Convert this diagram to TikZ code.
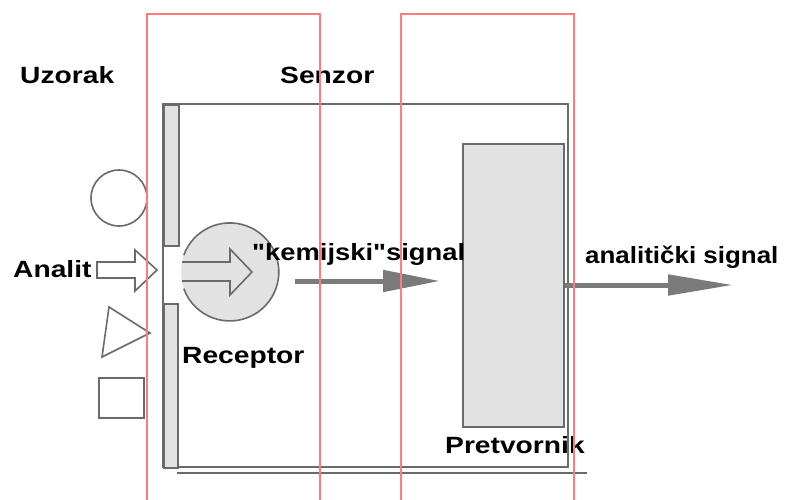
\documentclass[tikz,border=0pt]{standalone}
\usepackage{graphicx}
\usepackage{fontspec}
\setmainfont[FakeStretch=1.2, Ligatures=TeXOff]{Liberation Sans}
\usetikzlibrary{arrows.meta}
\definecolor{lightg}{HTML}{E2E2E2}
\definecolor{lineg}{HTML}{6A6A6A}
\definecolor{arrg}{HTML}{7A7A7A}
\definecolor{redl}{HTML}{FF7C7C}
\tikzset{
  shapeline/.style={draw=lineg, line width=1.6pt},
  lbl/.style={inner sep=0pt, anchor=base west, font=\fontsize{23.5}{28}\bfseries},
  sigarrow/.style={draw=arrg, line width=5pt},
  redbox/.style={draw=redl, line width=1.8pt},
}
\begin{document}
\begin{tikzpicture}[x=1pt,y=1pt]
\useasboundingbox (0,0) rectangle (787,-500);
\fill[white] (0,0) rectangle (787,-500);

% sensor body
\draw[shapeline] (163,-104) -- (568,-104) -- (568,-467) -- (163,-467) -- cycle;
\draw[shapeline] (177,-473) -- (587,-473);
\node[shapeline, fill=lightg, minimum width=15, minimum height=141, inner sep=0, anchor=north west] (strip1) at (163,-104) {};
\node[shapeline, fill=lightg, minimum width=14, minimum height=164, inner sep=0, anchor=north west] (strip2) at (163,-303) {};

% transducer
\node[shapeline, fill=lightg, minimum width=101, minimum height=283, inner sep=0] (pret) at (513.5,-285.5) {};

% receptor
\node[circle, fill=lightg, minimum size=98, inner sep=0] (rec) at (230,-272) {};
\draw[shapeline] (rec.160) arc[start angle=160, end angle=-160, radius=49];
\draw[shapeline, fill=lightg] (182,-262) -- (230,-262) -- (230,-249) -- (252,-272) -- (230,-295) -- (230,-281) -- (182,-281);

% sample shapes
\node[circle, shapeline, minimum size=56, inner sep=0] (circ) at (119,-198) {};
\draw[shapeline] (109,-307) -- (150,-333) -- (102,-357) -- cycle;
\node[shapeline, minimum width=45, minimum height=40, inner sep=0, anchor=north west] (sq) at (98,-377) {};

% analyte arrow
\draw[shapeline, fill=white] (97,-262) -- (135,-262) -- (135,-250) -- (157,-270) -- (135,-291) -- (135,-278) -- (97,-278) -- cycle;

% signal arrows
\coordinate (k1) at (295,-281);
\coordinate (k2) at (440,-281);
\draw[sigarrow, -{Triangle[length=57pt, width=21pt, fill=arrg]}] (k1) -- (k2);
\coordinate (a1) at (565,-285);
\coordinate (a2) at (733,-285);
\draw[sigarrow, -{Triangle[length=65pt, width=20pt, fill=arrg]}] (a1) -- (a2);

% labels
\node[lbl] (uz) at (20,-84) {Uzorak};
\node[lbl] (sen) at (280,-84) {Senzor};
\node[lbl] (an) at (13,-277) {Analit};
\node[lbl] (recl) at (182,-363) {Receptor};
\node[lbl] (kem) at (252,-260) {\scalebox{0.97}[1]{"kemijski"signal}};
\node[lbl] (anl) at (585,-263) {\scalebox{0.92}[1]{analitički signal}};
\node[lbl] (pretl) at (445,-453) {Pretvornik};

% red frames
\draw[redbox] (147,-500) -- (147,-14) -- (320,-14) -- (320,-500);
\draw[redbox] (401,-500) -- (401,-14) -- (574,-14) -- (574,-500);
\end{tikzpicture}
\end{document}
